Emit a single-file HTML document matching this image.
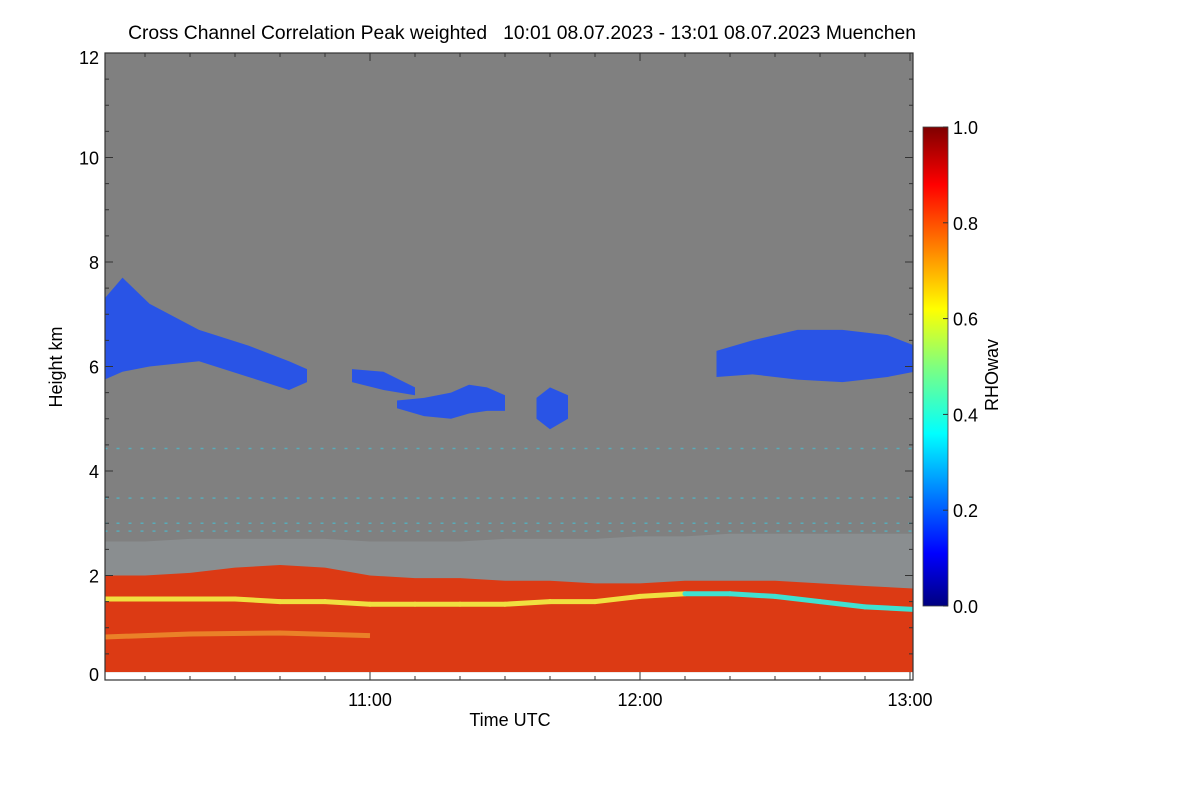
<!DOCTYPE html>
<html><head><meta charset="utf-8"><style>
html,body{margin:0;padding:0;background:#fff;width:1200px;height:800px;overflow:hidden}
svg{display:block;font-family:"Liberation Sans",Helvetica,sans-serif}
</style></head><body>
<svg id="chart" width="1200" height="800">
<defs>
<linearGradient id="jet" x1="0" y1="1" x2="0" y2="0">
<stop offset="0" stop-color="#00007f"/><stop offset="0.11" stop-color="#0000ff"/>
<stop offset="0.36" stop-color="#00ffff"/><stop offset="0.5" stop-color="#7fff7f"/>
<stop offset="0.62" stop-color="#ffff00"/><stop offset="0.88" stop-color="#ff0000"/>
<stop offset="1" stop-color="#7f0000"/></linearGradient>
<clipPath id="pc"><rect x="105" y="53" width="808" height="627"/></clipPath>
</defs>
<text x="522" y="39" font-size="19.3" text-anchor="middle" style="white-space:pre" xml:space="preserve">Cross Channel Correlation Peak weighted   10:01 08.07.2023 - 13:01 08.07.2023 Muenchen</text>
<rect x="105" y="53" width="808" height="627" fill="#808080"/>
<g id="marks" clip-path="url(#pc)"></g>
<g id="axes"></g>
<rect x="923" y="127" width="25" height="479" fill="url(#jet)" stroke="#444" stroke-width="0.8"/>
<g id="cbticks"></g>
<text transform="translate(998,375) rotate(-90)" font-size="18" text-anchor="middle">RHOwav</text>
<text x="510" y="726" font-size="18" text-anchor="middle">Time UTC</text>
<text transform="translate(62,367) rotate(-90)" font-size="18" text-anchor="middle">Height km</text>
</svg>
<script>
// data (time in minutes after 10:00, height in km)
const blTimes=[0,10,20,30,40,50,60,70,80,90,100,110,120,130,140,150,160,170,181];
const speckleTop=[2.65,2.65,2.7,2.7,2.7,2.7,2.65,2.65,2.65,2.7,2.7,2.7,2.75,2.75,2.8,2.8,2.8,2.8,2.8];
const redTop=[2.0,2.0,2.05,2.15,2.2,2.15,2.0,1.95,1.95,1.9,1.9,1.85,1.85,1.9,1.9,1.9,1.85,1.8,1.75];
const layerLine=[1.55,1.55,1.55,1.55,1.5,1.5,1.45,1.45,1.45,1.45,1.5,1.5,1.6,1.65,1.65,1.6,1.5,1.4,1.35];
const lowLineTimes=[0,20,40,60];
const lowLine=[0.82,0.88,0.9,0.85];
const clouds=[
 {t:[1,5,11,22,33,42,46],top:[7.3,7.7,7.2,6.7,6.4,6.1,5.95],bot:[5.75,5.9,6.0,6.1,5.8,5.55,5.7]},
 {t:[56,63,70],top:[5.95,5.9,5.6],bot:[5.7,5.55,5.45]},
 {t:[66,72,78,82,86,90],top:[5.35,5.4,5.5,5.65,5.6,5.45],bot:[5.2,5.05,5.0,5.1,5.15,5.15]},
 {t:[97,100,104],top:[5.4,5.6,5.45],bot:[5.0,4.8,5.0]},
 {t:[137,145,155,165,175,181],top:[6.3,6.5,6.7,6.7,6.6,6.4],bot:[5.8,5.85,5.75,5.7,5.8,5.9]}
];
const faintLines=[4.43,3.48,3.0,2.85];
const yTicks=[0,2,4,6,8,10,12];
const xTickLabels=["11:00","12:00","13:00"];
const xTickMins=[60,120,180];
const cbTicks=[0,0.2,0.4,0.6,0.8,1.0];

const X=m=>104.5+(m-1)*4.5;
const Y=h=>680-h*52.25;
const NS="http://www.w3.org/2000/svg";
const marks=document.getElementById('marks'),axes=document.getElementById('axes'),cb=document.getElementById('cbticks');
function mk(tag,attrs,parent){const e=document.createElementNS(NS,tag);for(const k in attrs)e.setAttribute(k,attrs[k]);parent.appendChild(e);return e;}
function band(ts,top,bot){let p=ts.map((t,i)=>X(t)+','+Y(top[i]));for(let i=ts.length-1;i>=0;i--)p.push(X(ts[i])+','+Y(bot[i]));return p.join(' ');}

let e=mk('polygon',{points:band(blTimes,speckleTop,blTimes.map(()=>0.15)),fill:'#8a8e90'},marks);


e=mk('polygon',{points:band(blTimes,redTop,blTimes.map(()=>0.15)),fill:'#dc3a14'},marks);


e=mk('rect',{x:X(1),y:Y(0.15),width:808,height:0.15*52.25,fill:'#ffffff'},marks);


e=mk('polyline',{points:lowLineTimes.map((t,i)=>X(t)+','+Y(lowLine[i])).join(' '),fill:'none',stroke:'#f0a030',"stroke-width":5,opacity:0.7},marks);


for(let i=0;i<blTimes.length-1;i++){
 const col=blTimes[i]>=125?'#40e0d0':'#f0e040';
 e=mk('line',{x1:X(blTimes[i]),y1:Y(layerLine[i]),x2:X(blTimes[i+1]),y2:Y(layerLine[i+1]),stroke:col,"stroke-width":5,"stroke-linecap":"round"},marks);
 
 
}
faintLines.forEach(h=>{
 e=mk('line',{x1:X(1),x2:X(181),y1:Y(h),y2:Y(h),stroke:'#40c8e0',"stroke-width":1.5,"stroke-dasharray":"3 9",opacity:0.6},marks);
 
 
});
clouds.forEach(c=>{
 e=mk('polygon',{points:band(c.t,c.top,c.bot),fill:'#1a4cf8',opacity:0.85},marks);
 
 
});

mk('rect',{x:105,y:53,width:808,height:627,fill:'none',stroke:'#333',"stroke-width":1.2},axes);
yTicks.forEach(v=>{
 mk('line',{x1:105,x2:113,y1:Y(v),y2:Y(v),stroke:'#333'},axes);
 mk('line',{x1:905,x2:913,y1:Y(v),y2:Y(v),stroke:'#333'},axes);
 e=mk('text',{x:99,y:Y(v)+7+(v==0?-6:0)+(v==12?4:0),"font-size":18,"text-anchor":"end"},axes);
 e.textContent=v;
 
 
});
for(let h=0;h<12;h+=0.5){if(h%2==0)continue;
 mk('line',{x1:105,x2:109,y1:Y(h),y2:Y(h),stroke:'#333'},axes);
 mk('line',{x1:909,x2:913,y1:Y(h),y2:Y(h),stroke:'#333'},axes);}
for(let m=10;m<=180;m+=10){const big=m%60==0;
 mk('line',{x1:X(m),x2:X(m),y1:680,y2:680-(big?8:4),stroke:'#333'},axes);
 mk('line',{x1:X(m),x2:X(m),y1:53,y2:53+(big?8:4),stroke:'#333'},axes);}
xTickMins.forEach((m,i)=>{
 e=mk('text',{x:X(m),y:706,"font-size":18,"text-anchor":"middle"},axes);
 e.textContent=xTickLabels[i];
 
 
});
cbTicks.forEach(v=>{
 const y=606-v*479;
 mk('line',{x1:943,x2:948,y1:y,y2:y,stroke:'#333'},cb);
 e=mk('text',{x:953,y:y+7,"font-size":18},cb);
 e.textContent=v.toFixed(1);
 
 
});
</script>
</body></html>
